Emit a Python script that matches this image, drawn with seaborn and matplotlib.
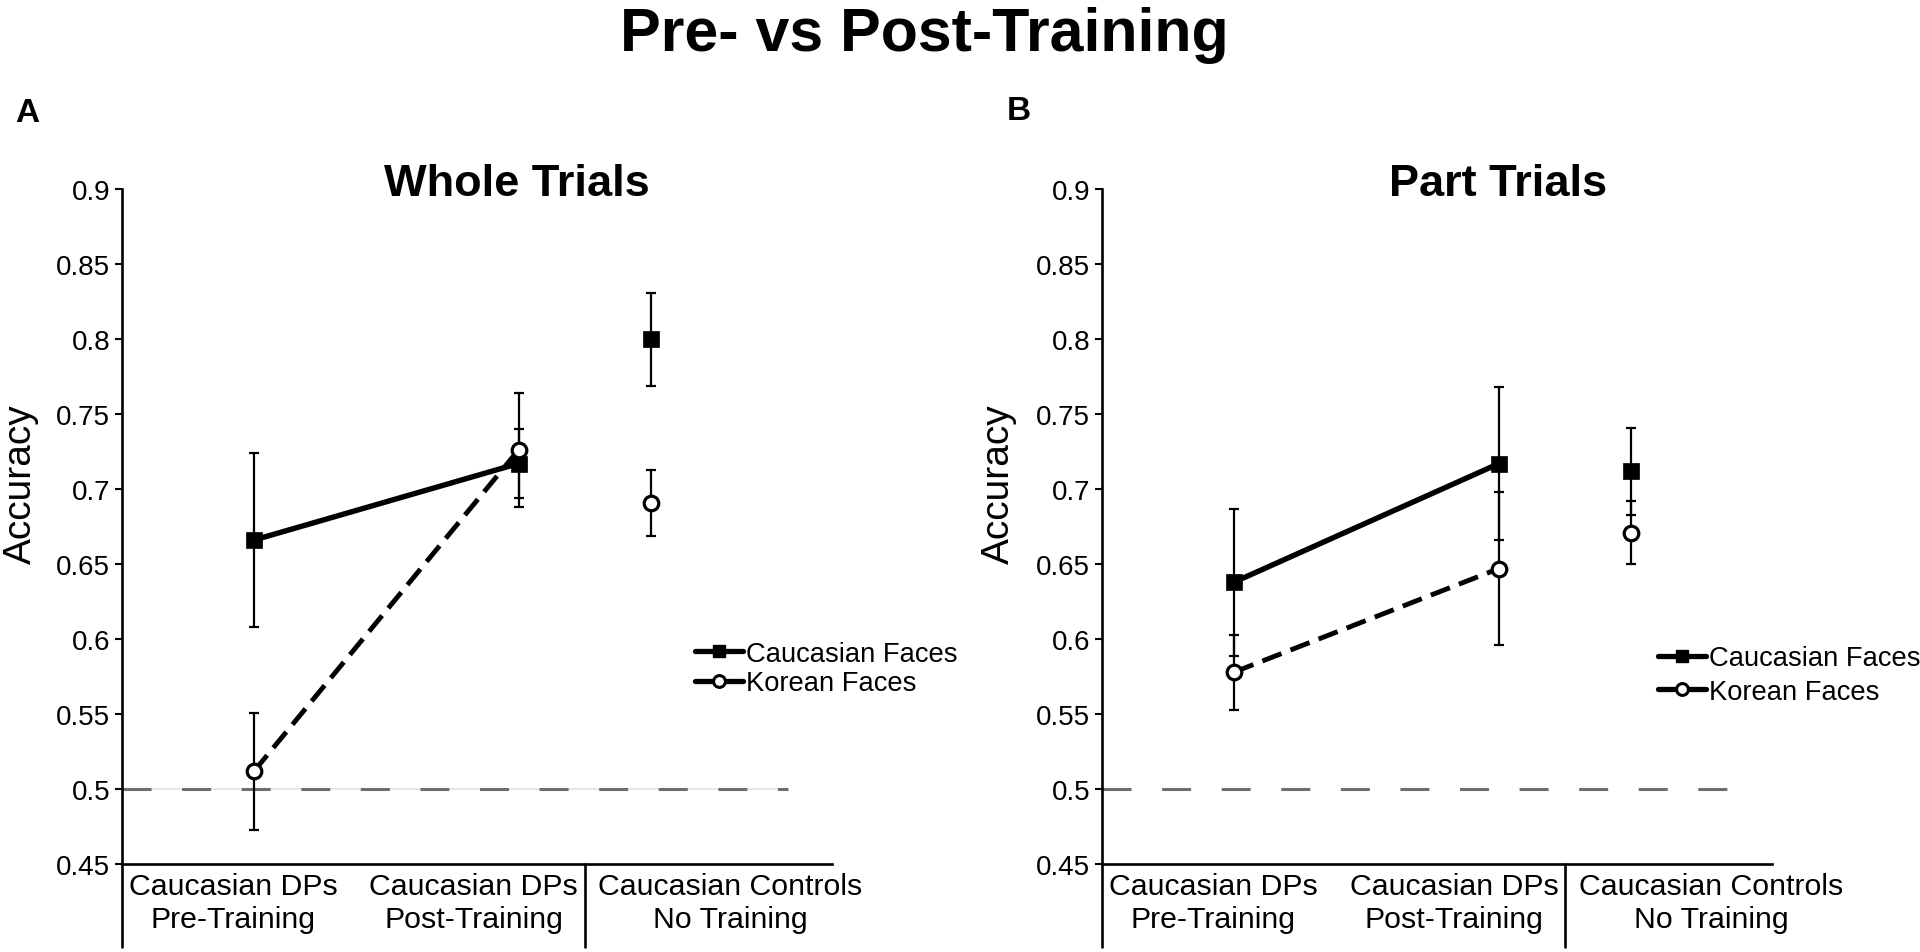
import seaborn as sns
import matplotlib.pyplot as plt
from matplotlib.lines import Line2D
from matplotlib.transforms import blended_transform_factory

# --- data ---
conditions = ['Caucasian DPs\nPre-Training', 'Caucasian DPs\nPost-Training',
              'Caucasian Controls\nNo Training']
series = ['Caucasian Faces', 'Korean Faces']

whole_caucasian = [0.666, 0.717, 0.800]
whole_caucasian_err = [0.058, 0.023, 0.031]
whole_korean = [0.512, 0.726, 0.691]
whole_korean_err = [0.039, 0.038, 0.022]

part_caucasian = [0.638, 0.717, 0.712]
part_caucasian_err = [0.049, 0.051, 0.029]
part_korean = [0.578, 0.647, 0.671]
part_korean_err = [0.025, 0.051, 0.021]

y_ticks = [0.45, 0.5, 0.55, 0.6, 0.65, 0.7, 0.75, 0.8, 0.85, 0.9]
y_tick_labels = ['0.45', '0.5', '0.55', '0.6', '0.65', '0.7', '0.75', '0.8', '0.85', '0.9']
chance = 0.5

# --- layout ---
cond_x = [0, 1, 1.5]          # marker slots
label_x = [-0.08, 0.83, 1.80]  # where the category labels sit
sep_x = 1.25                   # divider between trained / untrained

sns.set_style('ticks')
plt.rcParams['font.family'] = ['Liberation Sans', 'DejaVu Sans']
plt.rcParams['text.color'] = 'black'
plt.rcParams['xtick.color'] = 'black'
plt.rcParams['ytick.color'] = 'black'

fig = plt.figure(figsize=(19.2, 9.53), dpi=100)
ax_a = fig.add_axes([122 / 1920, 88 / 953, 710 / 1920, 675 / 953])
ax_b = fig.add_axes([1102 / 1920, 88 / 953, 669.7 / 1920, 675 / 953])


def draw_panel(ax, cauc, cauc_err, kor, kor_err, xmax, chance_end, faint_line):
    ax.set_xlim(-0.5, xmax)
    ax.set_ylim(0.45, 0.9)

    # chance level
    if faint_line:
        ax.hlines(chance, -0.5, chance_end, color='#e2e2e2', lw=1.2, zorder=1)
    ax.hlines(chance, -0.5, chance_end, color='#6e6e6e', lw=2.2,
              linestyles=[(0, (9.5, 10))], zorder=1)

    # error bars
    ax.errorbar(cond_x, cauc, yerr=cauc_err, fmt='none', ecolor='black',
                elinewidth=1.6, capsize=3.5, capthick=1.6, zorder=2)
    ax.errorbar(cond_x, kor, yerr=kor_err, fmt='none', ecolor='black',
                elinewidth=1.6, capsize=3.5, capthick=1.6, zorder=2)

    # trained DPs: pre -> post lines
    sns.lineplot(x=cond_x[:2], y=cauc[:2], ax=ax, color='black', lw=3.9,
                 marker='s', markersize=11, markerfacecolor='black',
                 markeredgecolor='black', markeredgewidth=0.5,
                 errorbar=None, zorder=3)
    sns.lineplot(x=cond_x[:2], y=kor[:2], ax=ax, color='black', lw=3.5,
                 linestyle=(0, (4.2, 2)), marker='o', markersize=10.5,
                 markerfacecolor='white', markeredgecolor='black',
                 markeredgewidth=2.3, errorbar=None, zorder=4)

    # controls: single points
    sns.scatterplot(x=cond_x[2:], y=cauc[2:], ax=ax, marker='s', s=121,
                    color='black', edgecolor='black', linewidth=0.5, zorder=3)
    sns.scatterplot(x=cond_x[2:], y=kor[2:], ax=ax, marker='o', s=110,
                    color='white', edgecolor='black', linewidth=2.3, zorder=4)

    sns.despine(ax=ax)
    for side in ['left', 'bottom']:
        ax.spines[side].set_linewidth(1.9)
        ax.spines[side].set_color('black')

    ax.set_yticks(y_ticks)
    ax.set_yticklabels(y_tick_labels)
    ax.tick_params(axis='y', direction='out', length=5, width=1.5,
                   labelsize=20, pad=3.5)
    ax.set_xticks(label_x)
    ax.set_xticklabels(conditions)
    ax.tick_params(axis='x', length=0, labelsize=21.8, pad=6)
    ax.set_xlabel('')
    ax.set_ylabel('')

    # category dividers below the axis
    trans = blended_transform_factory(ax.transData, ax.transAxes)
    for xv in [-0.5, sep_x]:
        ax.plot([xv, xv], [0, -0.123], transform=trans, color='black',
                lw=1.9, clip_on=False)


draw_panel(ax_a, whole_caucasian, whole_caucasian_err, whole_korean,
           whole_korean_err, 2.186, 2.02, True)
draw_panel(ax_b, part_caucasian, part_caucasian_err, part_korean,
           part_korean_err, 2.03, 1.906, False)

# legends
handles = [
    Line2D([], [], color='black', lw=3.8, marker='s', markersize=8.5,
           markerfacecolor='black', markeredgecolor='black'),
    Line2D([], [], color='black', lw=3.8, marker='o', markersize=8.5,
           markerfacecolor='white', markeredgecolor='black', markeredgewidth=2.2),
]
for ax, anchor, spacing in [(ax_a, (695 / 1920, 1 - 669.5 / 953), 0.12),
                            (ax_b, (1658 / 1920, 1 - 676 / 953), 0.28)]:
    ax.legend(handles, series, loc='center left', bbox_to_anchor=anchor,
              bbox_transform=fig.transFigure, frameon=False, fontsize=19.7,
              handlelength=1.76, handletextpad=0.1, borderpad=0,
              borderaxespad=0, labelspacing=spacing)

# texts
fig.text(924 / 1920, 1 - 51 / 953, 'Pre- vs Post-Training', ha='center',
         va='baseline', fontsize=43.8, fontweight='bold')
fig.text(15 / 1920, 1 - 122 / 953, 'A', ha='left', va='baseline',
         fontsize=24, fontweight='bold')
fig.text(1007 / 1920, 1 - 120 / 953, 'B', ha='left', va='baseline',
         fontsize=24, fontweight='bold')
fig.text(517 / 1920, 1 - 196 / 953, 'Whole Trials', ha='center',
         va='baseline', fontsize=32.5, fontweight='bold')
fig.text(1498 / 1920, 1 - 196 / 953, 'Part Trials', ha='center',
         va='baseline', fontsize=32.5, fontweight='bold')
for xc in [21, 999]:
    fig.text(xc / 1920, 1 - 484.5 / 953, 'Accuracy', rotation=90,
             ha='center', va='center', fontsize=28)

plt.savefig('out.png', dpi=100)
